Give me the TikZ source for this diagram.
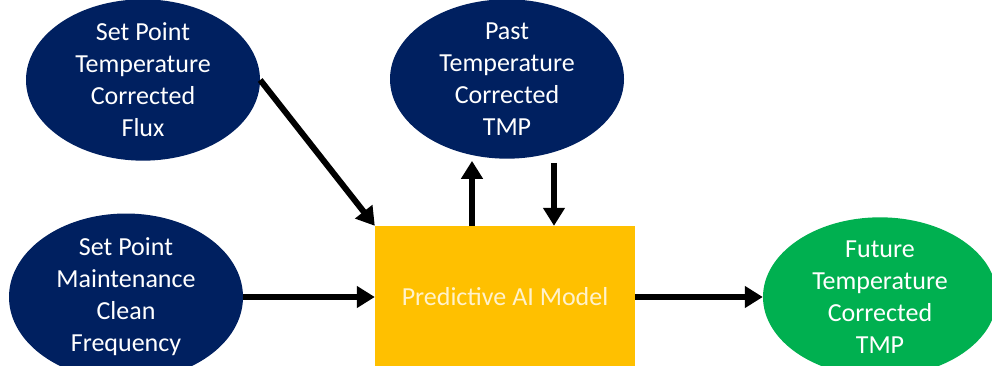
\documentclass[tikz,border=0pt]{standalone}
\usepackage{fontspec}
\setmainfont{Carlito}
\usetikzlibrary{arrows.meta,shapes.geometric}
\definecolor{navy}{RGB}{0,32,96}
\definecolor{amber}{RGB}{255,192,0}
\definecolor{leaf}{RGB}{0,176,80}
\definecolor{paleyellow}{RGB}{255,242,204}
\tikzset{
  oval/.style={ellipse, fill=navy, text=white, minimum width=234pt, minimum height=142pt,
    inner sep=0pt, align=center, font=\fontsize{26}{32}\selectfont},
  modelbox/.style={rectangle, fill=amber, text=paleyellow, minimum width=260pt, minimum height=142pt,
    inner sep=0pt, font=\fontsize{26}{32}\selectfont},
  arr/.style={line width=6pt, -{Triangle[length=18pt,width=21pt]}}
}
\begin{document}
\begin{tikzpicture}[x=1pt,y=-1pt]
  \clip (0,0) rectangle (992,366);
  \useasboundingbox (0,0) rectangle (992,366);
  \fill[white] (0,0) rectangle (992,366);

  \node[oval] (flux) at (143,80) {Set Point\\Temperature\\Corrected\\Flux};
  \node[oval] (past) at (507,79) {Past\\Temperature\\Corrected\\TMP};
  \node[oval] (maint) at (126,297) {Set Point\\Maintenance\\Clean\\Frequency};
  \node[oval, fill=leaf] (future) at (880,297) {Future\\Temperature\\Corrected\\TMP};
  \node[modelbox] (model) at (505,297) {Predictive AI Model};

  \coordinate (upx) at (472,0);
  \coordinate (downx) at (554,0);

  \draw[arr] (flux.east) -- (model.north west);
  \draw[arr] (maint.east) -- (model.west);
  \draw[arr] (model.east) -- (future.west);
  \draw[arr] (upx |- model.north) -- ([yshift=-2pt]upx |- past.south);
  \draw[arr] ([yshift=-4pt]downx |- past.south) -- (downx |- model.north);
\end{tikzpicture}
\end{document}
